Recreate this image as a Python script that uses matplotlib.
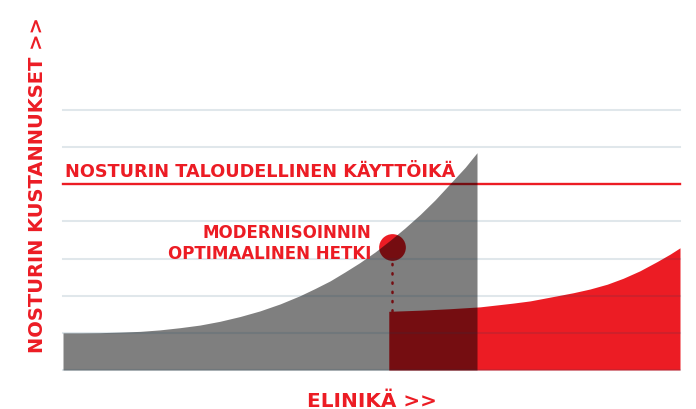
import matplotlib
matplotlib.use("Agg")
import matplotlib.pyplot as plt

# ---- data ----
# x: relative lifetime scale 0..100, y: cost units (gridlines at 1..7)
gray_x = [0, 2.76, 6.0, 9.24, 12.5, 15.7, 19.0, 22.2, 25.4, 28.7, 31.9, 35.2, 38.4,
          40.8, 43.3, 45.7, 48.1, 50.6, 53.0, 55.4, 57.9, 60.3, 62.7, 65.2, 67.1]
gray_y = [1.0, 1.0, 1.005, 1.02, 1.04, 1.08, 1.14, 1.21, 1.31, 1.44, 1.59, 1.78, 2.0,
          2.19, 2.40, 2.64, 2.89, 3.18, 3.49, 3.82, 4.19, 4.58, 5.01, 5.46, 5.85]

red_x = [52.8, 57.9, 62.7, 67.6, 72.9, 75.7, 78.9, 82.7, 85.4, 88.2, 90.8, 93.5, 96.3, 98.4, 100.0]
red_y = [1.58, 1.61, 1.65, 1.70, 1.80, 1.86, 1.96, 2.08, 2.18, 2.31, 2.47, 2.67, 2.92, 3.12, 3.29]

lifetime_level = 5.0
optimal_x = 53.3
optimal_y = 3.31
grid_levels = [0, 1, 2, 3, 4, 6, 7]

title_text = "NOSTURIN TALOUDELLINEN KÄYTTÖIKÄ"
point_label = ["MODERNISOINNIN", "OPTIMAALINEN HETKI"]
ylabel_text = "NOSTURIN KUSTANNUKSET >>"
xlabel_text = "ELINIKÄ >>"

RED = "#EC1C24"

fig = plt.figure(figsize=(6.96, 4.10), dpi=100)
ax = fig.add_axes([63 / 696, 39 / 410, 617 / 696, 260 / 410])
ax.set_xlim(0, 100)
ax.set_ylim(0, 7)
ax.axis("off")

# red (after modernisation) cost area
ax.fill_between(red_x, 0, red_y, color=RED, lw=0, zorder=1)
# economic lifetime line
ax.axhline(lifetime_level, color=RED, lw=1.7, zorder=1.5, clip_on=False)
# optimal moment marker + dotted drop line
ax.scatter([optimal_x], [optimal_y], s=370, color=RED, lw=0, zorder=2)
ax.vlines(optimal_x, red_y[0], optimal_y, colors=RED, lw=1.8,
          linestyles=(0, (0.5, 3.2)), capstyle="round", zorder=2)
# gray (original crane) cost area, semi-transparent
ax.fill_between(gray_x, 0, gray_y, color="black", alpha=0.5, lw=0, zorder=3)

# gridlines on top
for g in grid_levels:
    ax.axhline(g, color=(0.02, 0.25, 0.38), alpha=0.12, lw=1.5, zorder=4, clip_on=False)

# texts
ax.text(0.3, 5.22, title_text, color=RED, fontsize=12.7, fontweight="bold",
        ha="left", va="baseline", family="DejaVu Sans", zorder=6)
ax.text(49.9, 3.58, point_label[0], color=RED, fontsize=12, fontweight="bold",
        ha="right", va="baseline", family="DejaVu Sans", zorder=6)
ax.text(49.9, 3.02, point_label[1], color=RED, fontsize=12, fontweight="bold",
        ha="right", va="baseline", family="DejaVu Sans", zorder=6)

fig.text(38 / 696, 1 - 185 / 410, ylabel_text, color=RED, fontsize=14, fontweight="bold",
         rotation=90, ha="center", va="center", family="DejaVu Sans")
fig.text(372 / 696, 3 / 410, xlabel_text, color=RED, fontsize=14.4, fontweight="bold",
         ha="center", va="baseline", family="DejaVu Sans")

fig.savefig("out.png", dpi=100)
